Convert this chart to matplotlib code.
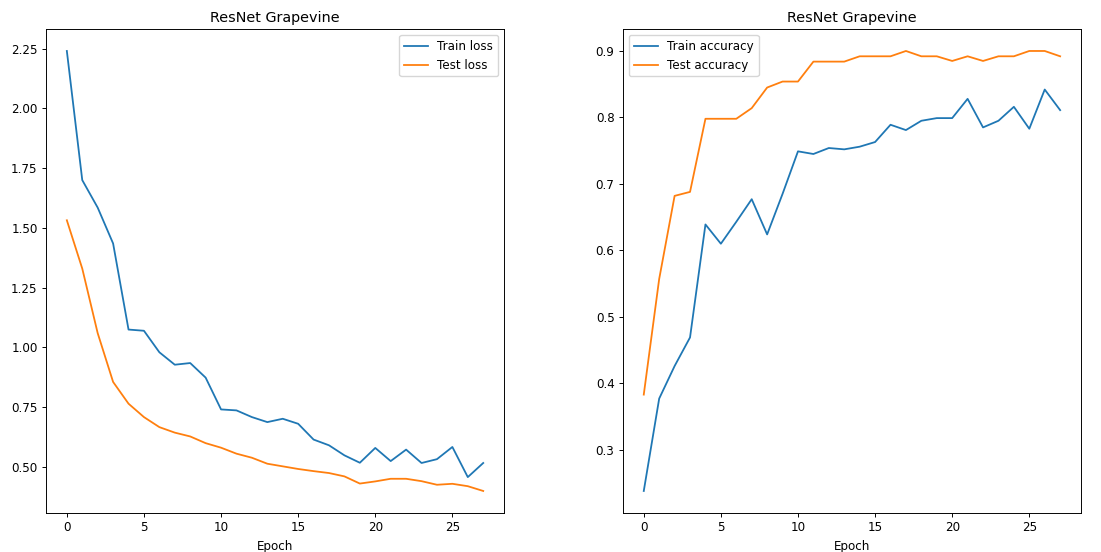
import numpy as np
import matplotlib
matplotlib.use("Agg")
import matplotlib.pyplot as plt

# values, one per epoch
epochs = list(range(28))

train_loss = [2.24, 1.70, 1.585, 1.435, 1.075, 1.07, 0.98, 0.928, 0.935, 0.874,
              0.741, 0.737, 0.709, 0.688, 0.702, 0.681, 0.615, 0.591, 0.549, 0.518,
              0.580, 0.525, 0.573, 0.517, 0.533, 0.584, 0.458, 0.517]
test_loss = [1.532, 1.33, 1.06, 0.856, 0.765, 0.709, 0.667, 0.644, 0.628, 0.600,
             0.581, 0.556, 0.539, 0.514, 0.503, 0.492, 0.483, 0.475, 0.461, 0.431,
             0.440, 0.451, 0.451, 0.441, 0.426, 0.430, 0.420, 0.400]

train_acc = [0.238, 0.377, 0.426, 0.469, 0.639, 0.610, 0.643, 0.677, 0.624, 0.685,
             0.749, 0.745, 0.754, 0.752, 0.756, 0.763, 0.789, 0.781, 0.795, 0.799,
             0.799, 0.828, 0.785, 0.795, 0.816, 0.783, 0.842, 0.811]
test_acc = [0.383, 0.557, 0.682, 0.688, 0.798, 0.798, 0.798, 0.814, 0.845, 0.854,
            0.854, 0.884, 0.884, 0.884, 0.892, 0.892, 0.892, 0.900, 0.892, 0.892,
            0.885, 0.892, 0.885, 0.892, 0.892, 0.900, 0.900, 0.892]

TITLE = "ResNet Grapevine"

# the reference looks like a default figure shrunk by ~0.86
S = 0.86
plt.rcParams.update({
    "font.size": 10 * S,
    "axes.titlesize": 12 * S,
    "axes.labelsize": 10 * S,
    "xtick.labelsize": 10 * S,
    "ytick.labelsize": 10 * S,
    "legend.fontsize": 10 * S,
    "lines.linewidth": 1.5 * S,
    "axes.linewidth": 0.8 * S,
    "xtick.major.size": 3.5 * S,
    "ytick.major.size": 3.5 * S,
    "xtick.major.width": 0.8 * S,
    "ytick.major.width": 0.8 * S,
    "xtick.major.pad": 3.5 * S,
    "ytick.major.pad": 3.5 * S,
    "axes.titlepad": 6.0 * S,
    "legend.handlelength": 2.0,
})

fig = plt.figure(figsize=(11.01, 5.52), dpi=100)
ax1 = fig.add_axes([0.0418, 0.0707, 0.416, 0.8768])
ax2 = fig.add_axes([0.5658, 0.0707, 0.416, 0.8768])

# loss
ax1.plot(epochs, train_loss, label="Train loss")
ax1.plot(epochs, test_loss, label="Test loss")
ax1.set_title(TITLE)
ax1.set_xlabel("Epoch")
ax1.legend(loc="upper right")

# accuracy
ax2.plot(epochs, train_acc, label="Train accuracy")
ax2.plot(epochs, test_acc, label="Test accuracy")
ax2.set_title(TITLE)
ax2.set_xlabel("Epoch")
ax2.legend(loc="upper left")

fig.savefig("out.png", dpi=100)
